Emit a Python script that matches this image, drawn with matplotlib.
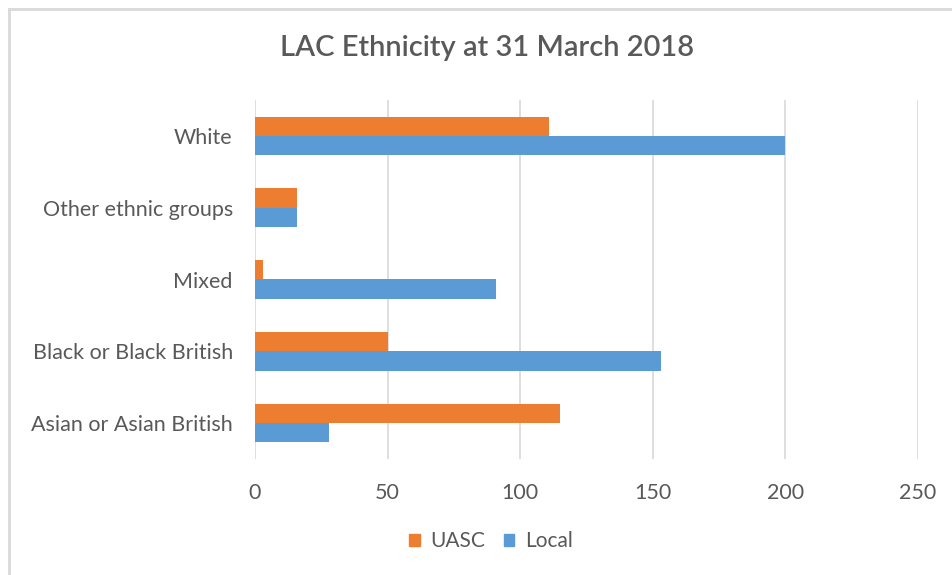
import matplotlib
matplotlib.use("Agg")
import matplotlib.pyplot as plt
import numpy as np
from matplotlib.lines import Line2D
from matplotlib.patches import Patch

categories = ["Asian or Asian British", "Black or Black British", "Mixed",
              "Other ethnic groups", "White"]
uasc = [115, 50, 3, 16, 111]
local = [28, 153, 91, 16, 200]
xticks = [0, 50, 100, 150, 200, 250]
title = "LAC Ethnicity at 31 March 2018"

plt.rcParams['font.family'] = ['Lato', 'DejaVu Sans']
orange = "#ED7D31"
blue = "#5B9BD5"
txt = "#595959"

fig = plt.figure(figsize=(9.53, 5.75), dpi=100)
ax = fig.add_axes([255/953, 1-459/575, (918-255)/953, (459-100)/575])

y = np.arange(len(categories))
h = 0.27
ax.barh(y + h/2, uasc, height=h, color=orange, label="UASC", zorder=3)
ax.barh(y - h/2, local, height=h, color=blue, label="Local", zorder=3)

ax.set_xlim(0, 250)
ax.set_ylim(-0.5, len(categories) - 0.5)
ax.set_xticks(xticks)
ax.set_xticklabels([str(t) for t in xticks])
ax.set_yticks(y)
ax.set_yticklabels(categories)
ax.tick_params(axis='both', length=0, labelsize=15.5, colors=txt)
ax.tick_params(axis='x', pad=17)
ax.tick_params(axis='y', pad=16)
ax.grid(axis='x', color="#D9D9D9", linewidth=1.2, zorder=0)
for s in ax.spines.values():
    s.set_visible(False)

fig.text(487/953, 1-48/575, title, ha='center', va='center', fontsize=21,
         color=txt, fontweight='semibold')

handles = [Patch(color=orange), Patch(color=blue)]
fig.legend(handles, ["UASC", "Local"], loc='center', bbox_to_anchor=(491/953, 1-541/575),
           ncol=2, frameon=False, fontsize=15, labelcolor=txt,
           handlelength=0.5, handleheight=0.5, handletextpad=0.5, columnspacing=0.9)

# partial chart border (top and left)
fig.add_artist(Line2D([9/953, 1], [1-9/575, 1-9/575], transform=fig.transFigure,
                      color="#D9D9D9", linewidth=2))
fig.add_artist(Line2D([9/953, 9/953], [0, 1-9/575], transform=fig.transFigure,
                      color="#D9D9D9", linewidth=2))

fig.savefig("out.png", dpi=100, facecolor="white")
